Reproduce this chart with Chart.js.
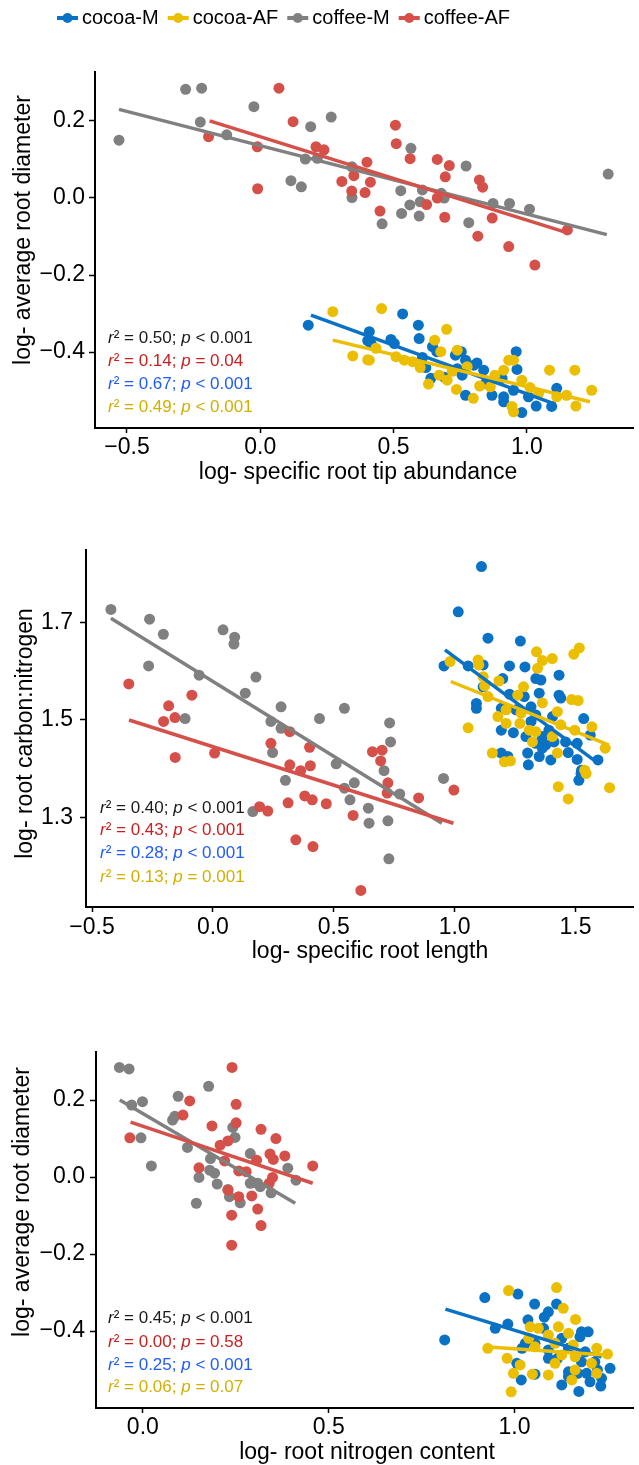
<!DOCTYPE html>
<html>
<head>
<meta charset="utf-8">
<script src="https://cdn.jsdelivr.net/npm/chart.js@4.4.1/dist/chart.umd.min.js"></script>
<style>
  body { margin: 0; background: #fff; }
  canvas { display: block; }
</style>
</head>
<body>
<canvas id="panel1" width="639" height="495"></canvas>
<canvas id="panel2" width="639" height="480"></canvas>
<canvas id="panel3" width="639" height="490"></canvas>
<script>
// Series
var seriesNames = ["cocoa-M", "cocoa-AF", "coffee-M", "coffee-AF"];
var seriesColors = ["#0a72c4", "#ebbf00", "#808080", "#d6504a"];
// stat lines are listed coffee-M, coffee-AF, cocoa-M, cocoa-AF
var statColors = ["#1a1a1a", "#cc2020", "#1f5cff", "#d2b000"];

// ---- Panel 1: specific root tip abundance vs average root diameter
var p1_cocoaM = [[0.18,-0.33],[0.409,-0.347],[0.416,-0.378],[0.534,-0.301],[0.49,-0.367],[0.503,-0.378],[0.593,-0.33],[0.596,-0.365],[0.608,-0.414],[0.621,-0.44],[0.64,-0.468],[0.646,-0.386],[0.662,-0.399],[0.732,-0.408],[0.754,-0.399],[0.739,-0.443],[0.77,-0.421],[0.801,-0.434],[0.757,-0.46],[0.77,-0.512],[0.838,-0.447],[0.845,-0.481],[0.869,-0.512],[0.907,-0.468],[0.913,-0.516],[0.913,-0.529],[0.96,-0.399],[0.963,-0.445],[0.95,-0.499],[0.981,-0.557],[1.006,-0.516],[1.035,-0.54],[1.112,-0.494],[1.093,-0.541],[0.69,-0.465],[0.813,-0.428],[0.403,-0.37]];
var p1_cocoaAF = [[0.272,-0.295],[0.347,-0.41],[0.403,-0.42],[0.455,-0.287],[0.409,-0.421],[0.434,-0.39],[0.509,-0.412],[0.54,-0.421],[0.571,-0.425],[0.654,-0.369],[0.699,-0.341],[0.677,-0.399],[0.631,-0.483],[0.671,-0.46],[0.701,-0.473],[0.736,-0.497],[0.739,-0.395],[0.776,-0.438],[0.799,-0.52],[0.823,-0.488],[0.863,-0.49],[0.913,-0.447],[0.932,-0.421],[0.95,-0.421],[0.944,-0.541],[0.95,-0.555],[0.981,-0.473],[1.012,-0.492],[1.044,-0.507],[1.085,-0.447],[1.112,-0.516],[1.149,-0.512],[1.18,-0.447],[1.184,-0.54],[1.243,-0.499],[0.6,-0.44],[0.72,-0.45],[0.88,-0.46]];
var p1_coffeeM = [[-0.53,0.15],[-0.28,0.282],[-0.22,0.285],[-0.225,0.197],[-0.126,0.164],[-0.024,0.237],[0.115,0.045],[0.154,0.029],[0.169,0.101],[0.189,0.185],[0.214,0.103],[0.266,0.21],[0.344,0.001],[0.344,0.081],[0.565,0.129],[0.527,0.019],[0.457,-0.067],[0.561,-0.018],[0.53,-0.04],[0.596,-0.047],[0.6,-0.01],[0.608,0.021],[0.679,0.012],[0.69,0.0],[0.772,0.083],[0.782,-0.064],[0.873,-0.014],[0.935,-0.014],[1.01,-0.029],[1.305,0.062]];
var p1_coffeeAF = [[0.07,0.285],[-0.194,0.159],[-0.011,0.133],[-0.01,0.024],[0.123,0.198],[0.209,0.133],[0.239,0.125],[0.306,0.043],[0.351,0.058],[0.343,0.018],[0.393,0.014],[0.4,0.093],[0.413,0.041],[0.449,-0.034],[0.507,0.189],[0.51,0.141],[0.562,0.102],[0.624,-0.017],[0.664,0.1],[0.664,0.0],[0.692,-0.05],[0.709,0.084],[0.694,0.055],[0.822,0.047],[0.834,0.028],[0.816,-0.099],[0.87,-0.052],[0.932,-0.126],[1.152,-0.083],[1.03,-0.174]];
// fitted lines: [x start, y start, x end, y end] per series
var p1_fits = [[0.19,-0.304,1.106,-0.535],[0.272,-0.369,1.237,-0.529],[-0.53,0.23,1.3,-0.095],[-0.19,0.2,1.15,-0.09]];
var p1_stats = [["0.50","<","0.001"],["0.14","=","0.04"],["0.67","<","0.001"],["0.49","<","0.001"]];
var p1_xTicks = [-0.5, 0, 0.5, 1.0];
var p1_yTicks = [-0.4, -0.2, 0, 0.2];

// ---- Panel 2: specific root length vs carbon:nitrogen
var p2_cocoaM = [[1.111,1.815],[1.015,1.722],[1.138,1.668],[1.272,1.662],[0.956,1.611],[1.056,1.611],[1.118,1.613],[1.227,1.611],[1.291,1.609],[1.432,1.592],[1.336,1.585],[1.357,1.582],[1.199,1.585],[1.118,1.568],[1.227,1.553],[1.288,1.548],[1.35,1.555],[1.432,1.551],[1.439,1.545],[1.09,1.534],[1.09,1.524],[1.193,1.524],[1.254,1.521],[1.316,1.527],[1.336,1.51],[1.316,1.497],[1.405,1.507],[1.534,1.503],[1.193,1.479],[1.243,1.474],[1.295,1.466],[1.363,1.466],[1.39,1.479],[1.336,1.452],[1.377,1.449],[1.411,1.455],[1.459,1.455],[1.507,1.452],[1.561,1.469],[1.193,1.432],[1.22,1.425],[1.302,1.432],[1.363,1.442],[1.47,1.433],[1.35,1.425],[1.398,1.418],[1.507,1.419],[1.593,1.418],[1.305,1.408],[1.525,1.397],[1.514,1.376],[1.523,1.39]];
var p2_cocoaAF = [[0.981,1.62],[1.097,1.623],[1.1,1.613],[1.339,1.64],[1.363,1.622],[1.404,1.626],[1.516,1.648],[1.493,1.635],[1.343,1.606],[1.118,1.589],[1.183,1.58],[1.124,1.57],[1.285,1.568],[1.138,1.548],[1.261,1.551],[1.363,1.535],[1.484,1.542],[1.511,1.54],[1.213,1.521],[1.275,1.514],[1.425,1.517],[1.179,1.507],[1.213,1.493],[1.27,1.493],[1.056,1.484],[1.309,1.479],[1.336,1.476],[1.439,1.49],[1.497,1.479],[1.568,1.486],[1.322,1.455],[1.404,1.466],[1.623,1.442],[1.156,1.432],[1.206,1.414],[1.231,1.416],[1.425,1.432],[1.538,1.397],[1.429,1.363],[1.47,1.338],[1.641,1.361],[1.544,1.39]];
var p2_coffeeM = [[-0.422,1.727],[-0.262,1.707],[-0.205,1.676],[-0.266,1.611],[-0.057,1.592],[0.042,1.685],[0.09,1.67],[0.087,1.656],[0.134,1.555],[0.178,1.588],[0.282,1.527],[0.24,1.497],[0.282,1.483],[-0.115,1.503],[0.441,1.503],[0.247,1.433],[0.3,1.376],[0.165,1.312],[0.544,1.524],[0.731,1.494],[0.735,1.455],[0.51,1.41],[0.708,1.396],[0.954,1.38],[0.544,1.36],[0.585,1.371],[0.567,1.336],[0.643,1.319],[0.646,1.288],[0.724,1.293],[0.728,1.215],[0.773,1.348]];
var p2_coffeeAF = [[-0.348,1.574],[-0.087,1.551],[-0.183,1.529],[-0.204,1.497],[-0.157,1.505],[0.318,1.476],[-0.156,1.423],[0.007,1.432],[0.24,1.452],[0.318,1.408],[0.363,1.396],[0.403,1.406],[0.4,1.444],[0.38,1.344],[0.411,1.336],[0.311,1.33],[0.193,1.322],[0.227,1.313],[0.343,1.254],[0.414,1.24],[0.66,1.435],[0.7,1.438],[0.694,1.416],[0.724,1.371],[0.721,1.35],[0.469,1.328],[0.58,1.304],[0.612,1.15],[0.851,1.34],[0.997,1.356]];
var p2_fits = [[0.96,1.644,1.575,1.418],[0.984,1.579,1.637,1.449],[-0.422,1.709,0.947,1.288],[-0.347,1.5,0.995,1.288]];
var p2_stats = [["0.40","<","0.001"],["0.43","<","0.001"],["0.28","<","0.001"],["0.13","=","0.001"]];
var p2_xTicks = [-0.5, 0, 0.5, 1.0, 1.5];
var p2_yTicks = [1.3, 1.5, 1.7];

// ---- Panel 3: root nitrogen content vs average root diameter
var p3_cocoaM = [[0.812,-0.423],[0.92,-0.313],[1.009,-0.304],[1.054,-0.33],[1.113,-0.33],[1.091,-0.35],[1.08,-0.364],[0.982,-0.382],[0.948,-0.393],[1.036,-0.371],[1.078,-0.393],[1.18,-0.402],[1.198,-0.402],[1.127,-0.419],[1.176,-0.415],[1.029,-0.432],[1.055,-0.432],[1.02,-0.445],[1.091,-0.449],[1.145,-0.445],[1.19,-0.454],[1.091,-0.471],[1.116,-0.471],[1.18,-0.48],[1.216,-0.48],[1.006,-0.484],[1.257,-0.497],[1.145,-0.506],[1.17,-0.51],[1.194,-0.51],[1.223,-0.501],[1.055,-0.512],[1.018,-0.527],[1.145,-0.518],[1.203,-0.532],[1.234,-0.523],[1.127,-0.54],[1.232,-0.543],[1.173,-0.557]];
var p3_cocoaAF = [[0.984,-0.295],[1.113,-0.287],[1.131,-0.341],[1.164,-0.37],[1.042,-0.389],[1.064,-0.393],[1.118,-0.389],[1.091,-0.41],[1.145,-0.406],[1.038,-0.419],[0.928,-0.445],[1.055,-0.441],[1.109,-0.432],[1.158,-0.436],[1.221,-0.445],[1.25,-0.46],[1.127,-0.462],[1.163,-0.467],[0.98,-0.471],[1.015,-0.488],[1.109,-0.484],[1.207,-0.484],[0.997,-0.51],[1.048,-0.512],[1.091,-0.514],[1.163,-0.501],[1.154,-0.527],[1.221,-0.51],[0.991,-0.558]];
var p3_coffeeM = [[-0.063,0.285],[-0.037,0.281],[-0.03,0.187],[-0.001,0.196],[-0.005,0.102],[0.023,0.029],[0.095,0.21],[0.177,0.236],[0.086,0.158],[0.08,0.148],[0.12,0.077],[0.242,0.129],[0.248,0.103],[0.182,0.048],[0.18,0.018],[0.193,0.01],[0.151,-0.001],[0.2,-0.018],[0.144,-0.068],[0.229,-0.032],[0.233,-0.051],[0.262,-0.067],[0.289,0.061],[0.289,-0.016],[0.309,-0.016],[0.316,-0.025],[0.345,-0.041],[0.39,0.023],[0.412,-0.008]];
var p3_coffeeAF = [[0.24,0.285],[0.126,0.198],[0.108,0.161],[-0.035,0.102],[0.251,0.189],[0.251,0.141],[0.186,0.133],[0.208,0.083],[0.229,0.094],[0.318,0.124],[0.358,0.1],[0.342,0.06],[0.351,0.046],[0.382,0.055],[0.457,0.029],[0.306,0.044],[0.151,0.024],[0.22,0.042],[0.258,0.016],[0.278,0.014],[0.349,-0.001],[0.34,-0.016],[0.229,-0.034],[0.258,-0.051],[0.293,-0.049],[0.309,-0.083],[0.239,-0.099],[0.318,-0.126],[0.239,-0.177]];
var p3_fits = [[0.814,-0.343,1.234,-0.467],[0.921,-0.441,1.243,-0.462],[-0.062,0.2,0.41,-0.068],[-0.033,0.143,0.457,-0.016]];
var p3_stats = [["0.45","<","0.001"],["0.00","=","0.58"],["0.25","<","0.001"],["0.06","=","0.07"]];
var p3_xTicks = [0, 0.5, 1.0];
var p3_yTicks = [-0.4, -0.2, 0, 0.2];


var FONT = "'Liberation Sans', Arial, sans-serif";

Chart.defaults.animation = false;
Chart.defaults.events = [];
Chart.defaults.font.family = FONT;
Chart.defaults.color = "#000";

function fmtTick(v) {
    return Number(v).toFixed(1).replace("-", "\u2212");
}

// r² / p annotation in the lower left corner
var statsPlugin = {
    id: "stats",
    afterDraw: function (chart, args, opts) {
        var ctx = chart.ctx, area = chart.chartArea;
        ctx.save();
        ctx.textBaseline = "middle";
        ctx.textAlign = "left";
        opts.lines.forEach(function (s, k) {
            var x = area.left + opts.dx;
            var y = area.bottom - opts.dy[k];
            var parts = [
                ["italic", "r"], ["normal", "\u00b2"], ["normal", " = " + s[0] + "; "],
                ["italic", "p"], ["normal", " " + s[1] + " " + s[2]]
            ];
            ctx.fillStyle = statColors[k];
            parts.forEach(function (p) {
                ctx.font = p[0] + " 17px " + FONT;
                ctx.fillText(p[1], x, y);
                x += ctx.measureText(p[1]).width;
            });
        });
        ctx.restore();
    }
};

// axis titles (placed like the original figure, not always centred on the panel)
var titlesPlugin = {
    id: "axisTitles",
    afterDraw: function (chart, args, opts) {
        var ctx = chart.ctx, area = chart.chartArea;
        ctx.save();
        ctx.font = "23px " + FONT;
        ctx.fillStyle = "#000";
        ctx.textAlign = "center";
        ctx.textBaseline = "middle";
        ctx.fillText(opts.x, opts.xPos[0], area.bottom + opts.xPos[1]);
        ctx.translate(opts.yPos[0], (area.top + area.bottom) / 2 - opts.yPos[1]);
        ctx.rotate(-Math.PI / 2);
        ctx.fillText(opts.y, 0, 0);
        ctx.restore();
    }
};

// legend across the top of the first panel
var legendPlugin = {
    id: "topLegend",
    afterDraw: function (chart, args, opts) {
        if (!opts.show) return;
        var ctx = chart.ctx;
        var x = opts.x, y = opts.y;
        ctx.save();
        ctx.font = "20px " + FONT;
        ctx.textBaseline = "middle";
        seriesNames.forEach(function (name, i) {
            ctx.strokeStyle = seriesColors[i];
            ctx.lineWidth = 4;
            ctx.beginPath();
            ctx.moveTo(x, y);
            ctx.lineTo(x + 21, y);
            ctx.stroke();
            ctx.fillStyle = seriesColors[i];
            ctx.beginPath();
            ctx.arc(x + 10.5, y, 5, 0, Math.PI * 2);
            ctx.fill();
            ctx.fillStyle = "#000";
            ctx.fillText(name, x + 25, y);
            x += 25 + ctx.measureText(name).width + 9;
        });
        ctx.restore();
    }
};

function buildPanel(id, cfg) {
    var datasets = [];
    cfg.points.forEach(function (pts, i) {
        datasets.push({
            type: "scatter",
            label: seriesNames[i],
            data: pts.map(function (p) { return {x: p[0], y: p[1]}; }),
            backgroundColor: seriesColors[i],
            borderWidth: 0,
            pointRadius: 5.5,
            pointHoverRadius: 5.5,
            order: 10 - i
        });
    });
    cfg.fits.forEach(function (f, i) {
        datasets.push({
            type: "line",
            label: seriesNames[i] + " fit",
            data: [{x: f[0], y: f[1]}, {x: f[2], y: f[3]}],
            borderColor: seriesColors[i],
            borderWidth: 3.5,
            pointRadius: 0,
            fill: false,
            tension: 0,
            order: 4 - i
        });
    });

    return new Chart(document.getElementById(id).getContext("2d"), {
        type: "scatter",
        data: {datasets: datasets},
        options: {
            responsive: false,
            layout: {padding: {top: cfg.padTop, right: 4, left: 0, bottom: 0}},
            plugins: {
                legend: {display: false},
                tooltip: {enabled: false},
                stats: {lines: cfg.stats, dx: cfg.statX, dy: cfg.statDy},
                axisTitles: {x: cfg.xTitle, y: cfg.yTitle, xPos: cfg.xTitlePos, yPos: cfg.yTitlePos},
                topLegend: {show: !!cfg.legend, x: 57, y: 18}
            },
            scales: {
                x: {
                    type: "linear",
                    min: cfg.xRange[0],
                    max: cfg.xRange[1],
                    afterBuildTicks: function (s) { s.ticks = cfg.xTicks.map(function (v) { return {value: v}; }); },
                    afterFit: function (s) { s.height = cfg.xHeight; },
                    ticks: {callback: fmtTick, color: "#000", font: {size: 23}, padding: cfg.xTickPad, maxRotation: 0, autoSkip: false},
                    grid: {display: true, drawOnChartArea: false, drawTicks: true, tickLength: 5, tickWidth: 1.5, tickColor: "#000"},
                    border: {display: true, color: "#000", width: 2}
                },
                y: {
                    type: "linear",
                    min: cfg.yRange[0],
                    max: cfg.yRange[1],
                    afterBuildTicks: function (s) { s.ticks = cfg.yTicks.map(function (v) { return {value: v}; }); },
                    afterFit: function (s) { s.width = cfg.yWidth; },
                    ticks: {callback: fmtTick, color: "#000", font: {size: 23}, padding: cfg.yTickPad, autoSkip: false},
                    grid: {display: true, drawOnChartArea: false, drawTicks: true, tickLength: 6, tickWidth: 1.5, tickColor: "#000"},
                    border: {display: true, color: "#000", width: 2}
                }
            }
        },
        plugins: [statsPlugin, titlesPlugin, legendPlugin]
    });
}

buildPanel("panel1", {
    points: [p1_cocoaM, p1_cocoaAF, p1_coffeeM, p1_coffeeAF],
    fits: p1_fits, stats: p1_stats, legend: true,
    xRange: [-0.62, 1.40], yRange: [-0.597, 0.327],
    xTicks: p1_xTicks, yTicks: p1_yTicks,
    xTitle: "log- specific root tip abundance", yTitle: "log- average root diameter",
    padTop: 72, yWidth: 95, xHeight: 67, xTickPad: 1, yTickPad: 4,
    xTitlePos: [358, 45], yTitlePos: [24, 20],
    statX: 13, statDy: [90, 67, 44, 21]
});

buildPanel("panel2", {
    points: [p2_cocoaM, p2_cocoaAF, p2_coffeeM, p2_coffeeAF],
    fits: p2_fits, stats: p2_stats,
    xRange: [-0.525, 1.74], yRange: [1.116, 1.849],
    xTicks: p2_xTicks, yTicks: p2_yTicks,
    xTitle: "log- specific root length", yTitle: "log- root carbon:nitrogen",
    padTop: 55, yWidth: 86, xHeight: 68, xTickPad: 2, yTickPad: 7,
    xTitlePos: [370, 45], yTitlePos: [26, -5],
    statX: 14, statDy: [99, 77, 54, 30]
});

buildPanel("panel3", {
    points: [p3_cocoaM, p3_cocoaAF, p3_coffeeM, p3_coffeeAF],
    fits: p3_fits, stats: p3_stats,
    xRange: [-0.126, 1.32], yRange: [-0.6, 0.325],
    xTicks: p3_xTicks, yTicks: p3_yTicks,
    xTitle: "log- root nitrogen content", yTitle: "log- average root diameter",
    padTop: 77, yWidth: 96, xHeight: 57, xTickPad: 1, yTickPad: 5,
    xTitlePos: [367, 45], yTitlePos: [23, 28],
    statX: 12, statDy: [90, 66, 43, 21]
});
</script>
</body>
</html>
